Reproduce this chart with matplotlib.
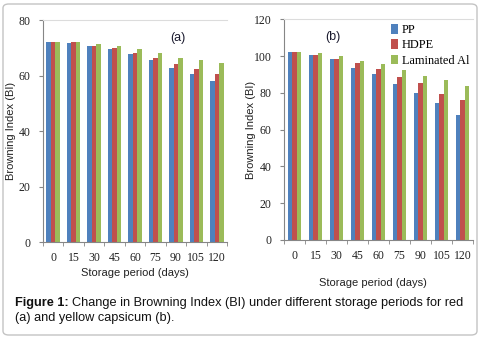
import matplotlib
matplotlib.use("Agg")
import matplotlib.pyplot as plt
import numpy as np
from matplotlib.patches import FancyBboxPatch

days = ["0", "15", "30", "45", "60", "75", "90", "105", "120"]
series_names = ["PP", "HDPE", "Laminated Al"]

red_pp = [72.1, 72.0, 70.7, 69.8, 67.9, 65.7, 62.9, 60.5, 58.1]
red_hdpe = [72.1, 72.1, 70.7, 70.0, 68.1, 66.4, 64.3, 62.6, 60.8]
red_al = [72.1, 72.1, 71.5, 70.6, 69.5, 68.2, 66.4, 65.6, 64.5]

yel_pp = [102.2, 100.6, 98.4, 93.5, 90.3, 84.8, 79.9, 74.5, 68.1]
yel_hdpe = [102.2, 100.6, 98.4, 96.4, 93.2, 88.6, 85.2, 79.4, 76.1]
yel_al = [102.2, 101.5, 100.0, 97.3, 95.5, 92.3, 89.2, 86.8, 83.7]

colors = ["#4F81BD", "#C0504D", "#9BBB59"]

W, H = 482, 339
fig = plt.figure(figsize=(W / 100, H / 100), dpi=100)

def ax_rect(l, r, b, t):
    return [l / W, 1 - b / H, (r - l) / W, (b - t) / H]

serif = "Liberation Serif"
sans = "Liberation Sans"

def draw(ax, data, ymax, step, tag, tagxy, xlabel_pos):
    x = np.arange(len(days))
    bw = 0.22
    for i, vals in enumerate(data):
        ax.bar(x + (i - 1) * bw, vals, width=bw, color=colors[i],
               label=series_names[i], linewidth=0)
    ax.set_xlim(-0.5, len(days) - 0.5)
    ax.set_ylim(0, ymax)
    ax.set_yticks(np.arange(0, ymax + 1, step))
    ax.set_xticks(x)
    ax.set_xticklabels(days)
    ax.set_xticks(np.arange(-0.5, len(days), 1), minor=True)
    ax.tick_params(axis="x", which="major", length=0, pad=7)
    ax.tick_params(axis="x", which="minor", length=3, color="#868686", direction="out")
    ax.tick_params(axis="y", length=3, color="#868686", direction="out", pad=6)
    for lab in ax.get_xticklabels() + ax.get_yticklabels():
        lab.set_fontfamily(serif)
        lab.set_fontsize(8.5)
        lab.set_color("#222222")
    ax.spines["right"].set_visible(False)
    ax.spines["top"].set_color("#dcdcdc")
    ax.spines["top"].set_linewidth(0.8)
    for s in ["left", "bottom"]:
        ax.spines[s].set_color("#868686")
        ax.spines[s].set_linewidth(0.8)
    ax.set_ylabel("Browning Index (BI)", fontfamily=sans, fontsize=8, color="#222222")
    fig.text(tagxy[0], tagxy[1], tag, fontfamily=sans,
             fontsize=9, color="#1a1a2e", ha="center", va="center")
    fig.text(xlabel_pos[0] / W, 1 - xlabel_pos[1] / H, "Storage period (days)",
             fontfamily=sans, fontsize=8, color="#222222", ha="center", va="center")

ax1 = fig.add_axes(ax_rect(43, 227, 242.3, 20.3))
draw(ax1, [red_pp, red_hdpe, red_al], 80, 20, "(a)", (178 / W, 1 - 38 / H), (135, 273))
ax1.yaxis.set_label_coords(-0.145, 0.5)

ax2 = fig.add_axes(ax_rect(284, 473, 240, 19.3))
draw(ax2, [yel_pp, yel_hdpe, yel_al], 120, 20, "(b)", (333 / W, 1 - 37 / H), (373, 283))
ax2.yaxis.set_label_coords(-0.18 + 6 / 189, 0.5)

leg = ax2.legend(loc="upper left", bbox_to_anchor=((386 - 284) / (473 - 284), 1.0),
                 frameon=False, prop={"family": serif, "size": 8.8},
                 handlelength=0.55, handleheight=0.85, handletextpad=0.35,
                 labelspacing=0.25, borderaxespad=0.2, borderpad=0.2)

# outer frame
frame = FancyBboxPatch((3 / W, 4 / H), (474 / W), (331 / H),
                       boxstyle="round,pad=0,rounding_size=0.012",
                       transform=fig.transFigure, fill=False,
                       edgecolor="#c4c4c4", linewidth=1.0)
fig.patches.append(frame)

# caption
cap_fs = 9.15
t1 = fig.text(15 / W, 1 - 303 / H, "Figure 1:", fontsize=cap_fs, fontfamily=sans,
              fontweight="bold", ha="left", va="center", color="#111111")
fig.canvas.draw()
bb = t1.get_window_extent()
fig.text((bb.x1 + 3) / W, 1 - 303 / H,
         "Change in Browning Index (BI) under different storage periods for red",
         fontsize=cap_fs, fontfamily=sans, ha="left", va="center", color="#111111")
fig.text(15 / W, 1 - 318 / H, "(a) and yellow capsicum (b).",
         fontsize=cap_fs, fontfamily=sans, ha="left", va="center", color="#111111")

fig.savefig("out.png", dpi=100)
